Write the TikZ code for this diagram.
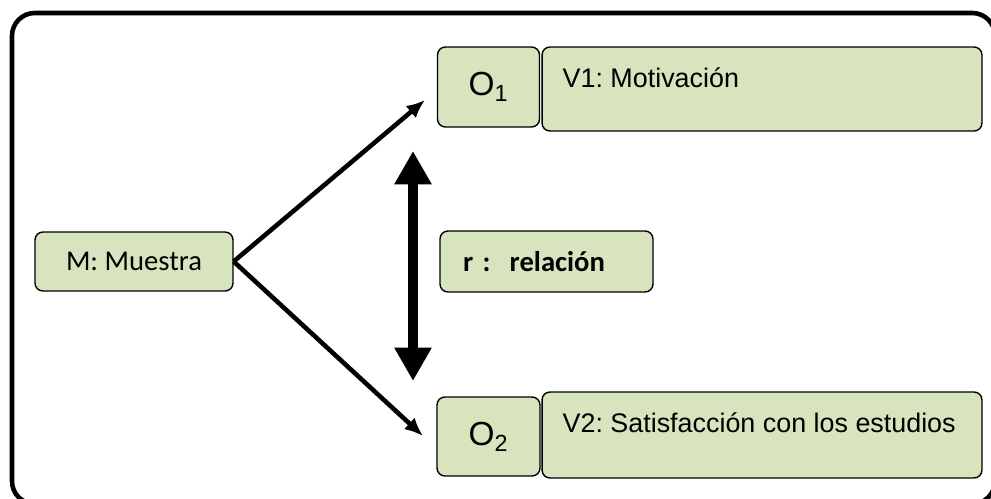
\documentclass[tikz,border=0pt]{standalone}
\usepackage{fontspec}
\setmainfont{Liberation Sans}
\newfontfamily\calibrifont{Carlito}
\usepackage{xcolor}
\usetikzlibrary{arrows.meta}

\definecolor{boxgreen}{HTML}{D7E4BD}
\frenchspacing

\begin{document}
\begin{tikzpicture}[x=0.02cm,y=-0.02cm,
    box/.style={draw=black,line width=0.8pt,fill=boxgreen,
        rounded corners=4.5pt,inner sep=0pt},
    obs/.style={box,font=\fontsize{19}{22}\selectfont},
    vname/.style={font=\fontsize{15.3}{18}\selectfont,inner sep=0pt},
    calib/.style={font=\calibrifont\fontsize{16.3}{19}\selectfont},
    link/.style={-{Latex[length=10.5pt,width=9pt]},line width=2.6pt},
    rel/.style={{Triangle[length=19pt,width=20pt]}-{Triangle[length=19pt,width=20pt]},
        line width=5.7pt},
    ]
    \useasboundingbox (0,0) rectangle (991,499);
    % outer frame
    \draw[line width=2.6pt,rounded corners=13pt] (12,13) rectangle (995,504);

    % sample
    \node[box,calib,minimum width=3.96cm,minimum height=1.18cm] (m) at (134,261.5)
        {M: Muestra};

    % observations and variables
    \node[obs,minimum width=2.04cm,minimum height=1.6cm] (o1) at (488.5,87)
        {O\textsubscript{1}};
    \node[box,minimum width=8.8cm,minimum height=1.68cm] (v1) at (762,89) {};
    \node[vname,anchor=base west] (v1t) at ([shift={(21,41)}]v1.north west)
        {V1: Motivación};

    \node[obs,minimum width=2.06cm,minimum height=1.58cm] (o2) at (488.5,436.5)
        {O\textsubscript{2}};
    \node[box,minimum width=8.8cm,minimum height=1.72cm] (v2) at (762,435) {};
    \node[vname,anchor=base west] (v2t) at ([shift={(21,41)}]v2.north west)
        {V2: Satisfacción con los estudios};

    % relation
    \node[box,calib,font=\calibrifont\bfseries\fontsize{16.3}{19}\selectfont,
        minimum height=1.22cm,text width=3.34cm,inner xsep=0.46cm,align=left]
        (r) at (546.5,261.5) {r :~~relación};

    % arrows
    \coordinate (t1) at (425,100);
    \coordinate (t2) at (423,436);
    \draw[link] (m.east) -- (t1);
    \draw[link] (m.east) -- (t2);

    \coordinate (rtop) at (413,151);
    \coordinate (rbot) at (413,381);
    \draw[rel] (rbot) -- (rtop);
\end{tikzpicture}
\end{document}
